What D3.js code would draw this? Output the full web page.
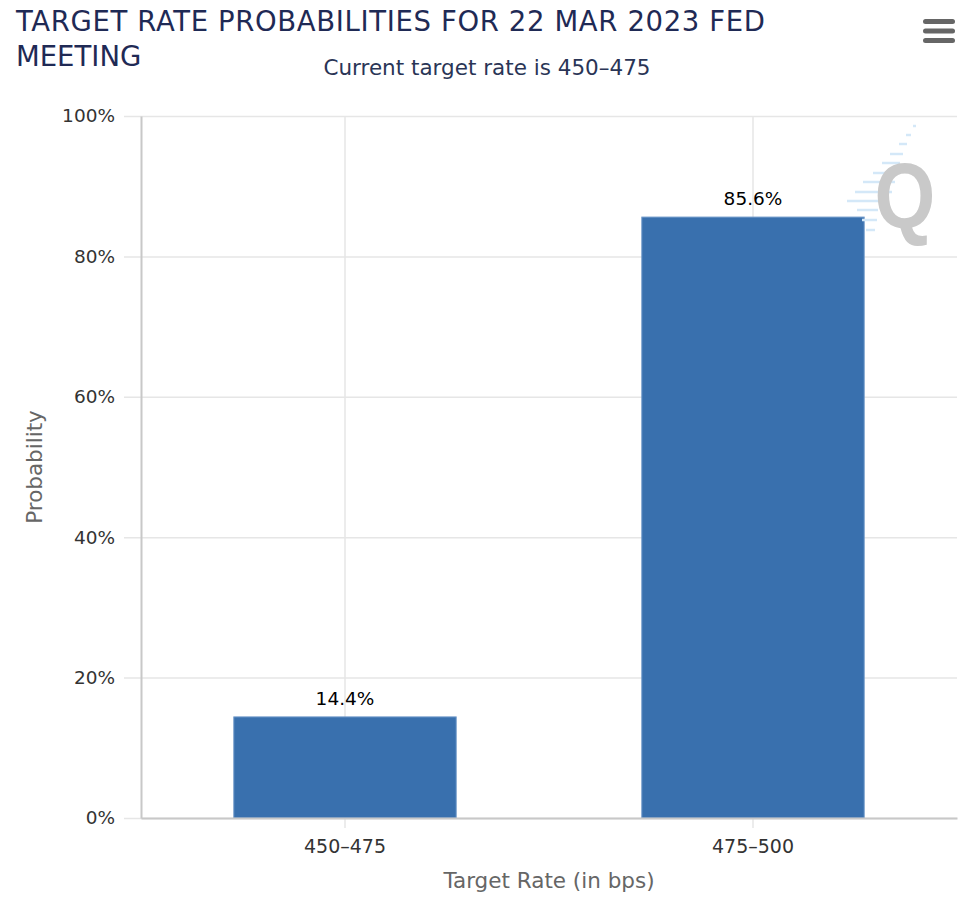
<!DOCTYPE html>
<html>
<head>
<meta charset="utf-8">
<script src="https://cdn.jsdelivr.net/npm/d3@7"></script>
<style>
  body { margin: 0; background: #fff; }
  text { font-family: "DejaVu Sans", sans-serif; }
</style>
</head>
<body>
<svg id="chart"></svg>
<script>
const categories = ["450\u2013475", "475\u2013500"];
const probabilities = [14.4, 85.6];
const yTicks = [0, 20, 40, 60, 80, 100];

const svg = d3.select("#chart")
  .attr("width", 966)
  .attr("height", 910);

const margin = { top: 116, right: 9, bottom: 92, left: 141 };
const width = +svg.attr("width") - margin.left - margin.right;
const height = +svg.attr("height") - margin.top - margin.bottom;

const x = d3.scaleBand()
  .domain(categories)
  .range([0, width])
  .padding(0);

const y = d3.scaleLinear()
  .domain([0, 100])
  .range([height, 0]);

const barWidth = x.bandwidth() * 0.545;

// title + subtitle
const title = svg.append("text")
  .attr("x", 16)
  .attr("y", 31)
  .style("font-size", "27.5px")
  .style("fill", "#1f2a55");
title.append("tspan")
  .attr("x", 16)
  .attr("textLength", 749)
  .text("TARGET RATE PROBABILITIES FOR 22 MAR 2023 FED");
title.append("tspan").attr("x", 16).attr("dy", 35).text("MEETING");

svg.append("text")
  .attr("x", 487)
  .attr("y", 75)
  .attr("text-anchor", "middle")
  .style("font-size", "21.5px")
  .style("fill", "#2a3556")
  .text("Current target rate is 450\u2013475");

// menu button
svg.append("g")
  .selectAll("rect")
  .data([0, 1, 2])
  .enter()
  .append("rect")
  .attr("x", 923)
  .attr("y", d => 19 + d * 9.5)
  .attr("width", 32)
  .attr("height", 5)
  .attr("rx", 2.5)
  .style("fill", "#666");

const g = svg.append("g")
  .attr("transform", `translate(${margin.left},${margin.top})`);

// horizontal grid
g.append("g")
  .selectAll("line")
  .data(yTicks)
  .enter()
  .append("line")
  .attr("x1", -17)
  .attr("x2", width)
  .attr("y1", d => y(d) + 0.5)
  .attr("y2", d => y(d) + 0.5)
  .style("stroke", "#e6e6e6")
  .style("stroke-width", 1.5);

// vertical grid through category centres
g.append("g")
  .selectAll("line")
  .data(categories)
  .enter()
  .append("line")
  .attr("x1", d => x(d) + x.bandwidth() / 2)
  .attr("x2", d => x(d) + x.bandwidth() / 2)
  .attr("y1", 0)
  .attr("y2", height + 10)
  .style("stroke", "#e6e6e6")
  .style("stroke-width", 1.5);

// watermark logo
const logo = svg.append("g");
const dashes = [
  [913, 916, 126], [906, 911, 135], [899, 907, 144], [890, 903, 154],
  [882, 900, 163], [873, 897, 173], [863, 895, 182], [855, 892, 192],
  [847, 887, 201], [857, 878, 210], [862, 877, 220], [866, 875, 230]
];
logo.selectAll("line")
  .data(dashes)
  .enter()
  .append("line")
  .attr("x1", d => d[0])
  .attr("x2", d => d[1])
  .attr("y1", d => d[2])
  .attr("y2", d => d[2])
  .style("stroke", "#d4e8f8")
  .style("stroke-width", 2.5);
logo.append("text")
  .attr("transform", "translate(905,228) scale(0.85,1)")
  .attr("text-anchor", "middle")
  .style("font-family", "Liberation Sans, sans-serif")
  .style("font-weight", "bold")
  .style("font-size", "92px")
  .style("fill", "#c9c9c9")
  .text("Q");

// bars
const bars = g.selectAll(".bar")
  .data(categories)
  .enter()
  .append("g")
  .attr("class", "bar");

bars.append("rect")
  .attr("x", d => x(d) + (x.bandwidth() - barWidth) / 2)
  .attr("y", (d, i) => y(probabilities[i]))
  .attr("width", barWidth)
  .attr("height", (d, i) => height - y(probabilities[i]))
  .style("fill", "#3970ae")
  .style("stroke", "#6d97c9")
  .style("stroke-width", 1);

bars.append("text")
  .attr("x", d => x(d) + x.bandwidth() / 2)
  .attr("y", (d, i) => y(probabilities[i]) - 12)
  .attr("text-anchor", "middle")
  .style("font-size", "18.5px")
  .style("fill", "#000")
  .text((d, i) => `${probabilities[i]}%`);

// axes
const yAxis = g.append("g")
  .call(d3.axisLeft(y).tickValues(yTicks).tickFormat(d => `${d}%`).tickSize(0).tickPadding(26));
yAxis.select(".domain").style("stroke", "#c8c8c8").style("stroke-width", 2);
yAxis.selectAll("text")
  .style("font-size", "18.5px")
  .style("fill", "#333");

const xAxis = g.append("g")
  .attr("transform", `translate(0,${height})`)
  .call(d3.axisBottom(x).tickSize(0).tickPadding(22));
xAxis.select(".domain").style("stroke", "#c8c8c8").style("stroke-width", 2);
xAxis.selectAll("text")
  .style("font-size", "19px")
  .style("fill", "#333");

// axis titles
svg.append("text")
  .attr("x", margin.left + width / 2)
  .attr("y", 888)
  .attr("text-anchor", "middle")
  .style("font-size", "21.5px")
  .style("fill", "#666")
  .text("Target Rate (in bps)");

svg.append("text")
  .attr("transform", `translate(42, ${margin.top + height / 2}) rotate(-90)`)
  .attr("text-anchor", "middle")
  .style("font-size", "21.5px")
  .style("fill", "#666")
  .text("Probability");
</script>
</body>
</html>
